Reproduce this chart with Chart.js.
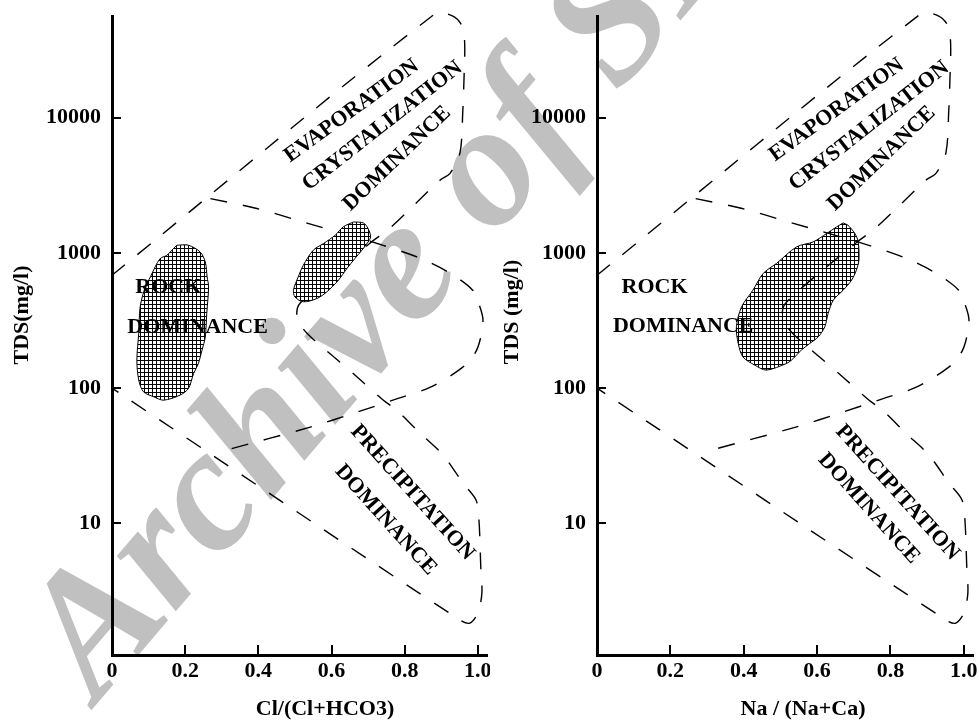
<!DOCTYPE html>
<html>
<head>
<meta charset="utf-8">
<title>Gibbs diagrams</title>
<script src="https://cdn.jsdelivr.net/npm/chart.js@4.4.1/dist/chart.umd.min.js"></script>
<style>
  html, body { margin: 0; padding: 0; background: #fff; overflow: hidden; }
  #page { position: relative; width: 979px; height: 725px; overflow: hidden; }
  .panel { position: absolute; top: 0; }
  #wm {
    position: absolute; left: 98px; top: 556px;
    font: italic bold 176px "Liberation Serif", "Times New Roman", serif;
    line-height: 176px; color: #c0c0c0; white-space: nowrap;
    transform-origin: 0 148px; transform: rotate(-49.5deg);
  }
</style>
</head>
<body>
<div id="page">
  <div id="wm">Archive of SID</div>
  <div class="panel" style="left:0"><canvas id="chartCl" width="490" height="725"></canvas></div>
  <div class="panel" style="left:490px"><canvas id="chartNa" width="489" height="725"></canvas></div>
</div>
<script>
/**************************************
 * DATOS
 **************************************/

// ejes
const tdsTicks = [10, 100, 1000, 10000];
const tdsTickLabels = ["10", "100", "1000", "10000"];
const ratioTicks = [0, 0.2, 0.4, 0.6, 0.8, 1.0];
const ratioTickLabels = ["0", "0.2", "0.4", "0.6", "0.8", "1.0"];

// limites de Gibbs (iguales en los dos paneles)
const outerRatio = [0, 0.883, 0.929, 0.956, 0.964, 0.962, 0.959, 0.951, 0.924, 0.896, 0.760, 0.705,
                    0.514, 0.506, 0.533, 0.610, 0.670, 0.741, 0.778, 0.842, 0.905, 0.959, 0.995,
                    1.003, 1.008, 1.011, 1.000, 0.978, 0.951, 0];
const outerTDS = [684, 58700, 56900, 48200, 35500, 18900, 11400, 5460, 3880, 3440, 1530, 1180,
                  425, 329, 255, 167, 121, 81.7, 68.9, 46.4, 32, 19.9, 14.9,
                  10.6, 4.76, 3.05, 2.17, 1.83, 1.93, 100];

const innerRatio = [0.269, 0.396, 0.533, 0.711, 0.834, 0.918, 0.986, 1.006, 1.014, 1.006, 0.992,
                    0.959, 0.872, 0.782, 0.670, 0.542, 0.318];
const innerTDS = [2520, 2130, 1660, 1206, 933, 724, 530, 397, 318, 227, 181,
                  143, 102, 84, 66.5, 51.5, 35.2];

// zonas de muestras - Cl/(Cl+HCO3)
const clRockRatio = [0.177, 0.209, 0.241, 0.255, 0.260, 0.264, 0.259, 0.255, 0.246, 0.236, 0.223,
                     0.209, 0.186, 0.141, 0.114, 0.086, 0.073, 0.068, 0.073, 0.077, 0.091, 0.105,
                     0.118, 0.132, 0.150, 0.168];
const clRockTDS = [1140, 1140, 1016, 857, 665, 561, 357, 239, 191, 152, 128,
                   99.5, 88.8, 81.5, 86.3, 94, 115, 161, 254, 399, 561, 665,
                   789, 910, 962, 1078];

const clEvapRatio = [0.660, 0.687, 0.700, 0.707, 0.700, 0.683, 0.664, 0.642, 0.619, 0.587, 0.560,
                     0.523, 0.500, 0.496, 0.509, 0.523, 0.550, 0.578, 0.610, 0.632];
const clEvapTDS = [1694, 1667, 1515, 1313, 1205, 1047, 909, 767, 629, 515, 460,
                   435, 473, 530, 665, 811, 1047, 1173, 1352, 1557];

// zona de muestras - Na/(Na+Ca)
const naRatio = [0.671, 0.684, 0.703, 0.712, 0.714, 0.707, 0.694, 0.671, 0.644, 0.630, 0.621,
                 0.603, 0.580, 0.557, 0.530, 0.516, 0.462, 0.430, 0.398, 0.385, 0.380, 0.394,
                 0.425, 0.453, 0.489, 0.544, 0.589, 0.626, 0.653];
const naTDS = [1667, 1603, 1391, 1205, 883, 745, 629, 530, 447, 356, 284,
               239, 214, 191, 161, 152, 136, 148, 170, 214, 284, 399,
               530, 705, 835, 1108, 1205, 1391, 1557];

/**************************************
 * ESTILOS Y TEXTOS
 **************************************/

const serif = '"Liberation Serif", "Times New Roman", serif';

const clLabels = [
    { text: "EVAPORATION", x: 0.655, y: 11200, rot: -36 },
    { text: "CRYSTALIZATION", x: 0.739, y: 8670, rot: -38 },
    { text: "DOMINANCE", x: 0.779, y: 4990, rot: -44 },
    { text: "ROCK", x: 0.154, y: 553, rot: 0 },
    { text: "DOMINANCE", x: 0.234, y: 280, rot: 0 },
    { text: "PRECIPITATION", x: 0.821, y: 16.9, rot: 48 },
    { text: "DOMINANCE", x: 0.748, y: 10.6, rot: 48 }
];

const naLabels = [
    { text: "EVAPORATION", x: 0.653, y: 11400, rot: -36 },
    { text: "CRYSTALIZATION", x: 0.742, y: 8670, rot: -38 },
    { text: "DOMINANCE", x: 0.776, y: 4990, rot: -44 },
    { text: "ROCK", x: 0.157, y: 553, rot: 0 },
    { text: "DOMINANCE", x: 0.235, y: 285, rot: 0 },
    { text: "PRECIPITATION", x: 0.819, y: 16.9, rot: 48 },
    { text: "DOMINANCE", x: 0.741, y: 12.9, rot: 48 }
];

function puntos(xs, ys, cerrar) {
    const p = xs.map((x, i) => ({ x: x, y: ys[i] }));
    if (cerrar) p.push({ x: xs[0], y: ys[0] });
    return p;
}

// trama cuadriculada de las zonas
function trama(ctx) {
    const c = document.createElement("canvas");
    c.width = 4; c.height = 4;
    const g = c.getContext("2d");
    g.fillStyle = "#fff"; g.fillRect(0, 0, 4, 4);
    g.fillStyle = "#000"; g.fillRect(0, 0, 4, 1); g.fillRect(0, 0, 1, 4);
    return ctx.createPattern(c, "repeat");
}

function linea(data, order) {
    return {
        data: data, showLine: true, pointRadius: 0, borderColor: "#000",
        borderWidth: 1.4, borderDash: [17, 16], tension: 0.3, fill: false,
        clip: false, order: order
    };
}

function zona(data, pattern, order) {
    return {
        data: data, showLine: true, pointRadius: 0, borderColor: "#000",
        borderWidth: 1, backgroundColor: pattern, fill: "shape", tension: 0.3,
        clip: false, order: order
    };
}

// marcas de eje, textos de zonas y titulos
const decorPlugin = {
    id: "decor",
    afterDatasetsDraw(chart, args, opts) {
        const { ctx, chartArea } = chart;
        const sx = chart.scales.x, sy = chart.scales.y;
        ctx.save();
        ctx.strokeStyle = "#000";
        ctx.lineWidth = 2;
        tdsTicks.forEach(v => {
            const py = Math.round(sy.getPixelForValue(v));
            ctx.beginPath(); ctx.moveTo(chartArea.left, py); ctx.lineTo(chartArea.left + 9, py); ctx.stroke();
        });
        ratioTicks.forEach(v => {
            const px = Math.round(sx.getPixelForValue(v));
            ctx.beginPath(); ctx.moveTo(px, chartArea.bottom); ctx.lineTo(px, chartArea.bottom - 10); ctx.stroke();
        });

        ctx.fillStyle = "#000";
        ctx.font = "bold 22px " + serif;
        ctx.textAlign = "center";
        ctx.textBaseline = "middle";
        opts.labels.forEach(l => {
            ctx.save();
            ctx.translate(sx.getPixelForValue(l.x), sy.getPixelForValue(l.y));
            ctx.rotate(l.rot * Math.PI / 180);
            ctx.fillText(l.text, 0, 0);
            ctx.restore();
        });

        ctx.fillText(opts.xTitle, opts.xTitlePos[0], opts.xTitlePos[1]);
        ctx.save();
        ctx.translate(opts.yTitlePos[0], opts.yTitlePos[1]);
        ctx.rotate(-Math.PI / 2);
        ctx.fillText(opts.yTitle, 0, 0);
        ctx.restore();
        ctx.restore();
    }
};

function crearPanel(canvasId, cfg) {
    const canvas = document.getElementById(canvasId);
    const ctx = canvas.getContext("2d");
    const fontTicks = { family: serif, size: 22, weight: "bold" };

    return new Chart(canvas, {
        type: "scatter",
        data: { datasets: cfg.datasets(trama(ctx)) },
        options: {
            responsive: false,
            devicePixelRatio: 1,
            animation: false,
            events: [],
            layout: { padding: { top: 16, right: cfg.padRight, bottom: 0, left: 0 } },
            plugins: {
                legend: { display: false },
                tooltip: { enabled: false },
                decor: {
                    labels: cfg.labels,
                    xTitle: cfg.xTitle, xTitlePos: cfg.xTitlePos,
                    yTitle: cfg.yTitle, yTitlePos: cfg.yTitlePos
                }
            },
            scales: {
                x: {
                    type: "linear", min: 0, max: 1.025, bounds: "data",
                    grid: { display: false, drawTicks: false },
                    border: { display: true, width: 3, color: "#000" },
                    ticks: {
                        autoSkip: false, maxRotation: 0, padding: 3, color: "#000", font: fontTicks,
                        callback: (v, i) => ratioTickLabels[i]
                    },
                    afterBuildTicks: s => { s.ticks = ratioTicks.map(v => ({ value: v })); },
                    afterFit: s => { s.height = 70; s.paddingLeft = 0; s.paddingRight = 0; }
                },
                y: {
                    type: "logarithmic", min: 1.063, max: 56500, bounds: "data",
                    grid: { display: false, drawTicks: false },
                    border: { display: true, width: 3, color: "#000" },
                    ticks: {
                        autoSkip: false, padding: 11, color: "#000", font: fontTicks,
                        callback: (v, i) => tdsTickLabels[i]
                    },
                    afterBuildTicks: s => { s.ticks = tdsTicks.map(v => ({ value: v })); },
                    afterFit: s => { s.width = cfg.yWidth; s.paddingTop = 0; s.paddingBottom = 0; }
                }
            }
        },
        plugins: [decorPlugin]
    });
}

/**************************************
 * PANELES
 **************************************/

// izquierda: las zonas tapan las lineas
crearPanel("chartCl", {
    yWidth: 112, padRight: 3,
    labels: clLabels,
    xTitle: "Cl/(Cl+HCO3)", xTitlePos: [325, 709],
    yTitle: "TDS(mg/l)", yTitlePos: [22, 315],
    datasets: pat => [
        zona(puntos(clRockRatio, clRockTDS, true), pat, 1),
        zona(puntos(clEvapRatio, clEvapTDS, true), pat, 2),
        linea(puntos(outerRatio, outerTDS), 3),
        linea(puntos(innerRatio, innerTDS), 4)
    ]
});

// derecha: las lineas pasan por encima de la zona
crearPanel("chartNa", {
    yWidth: 107, padRight: 6,
    labels: naLabels,
    xTitle: "Na / (Na+Ca)", xTitlePos: [313, 709],
    yTitle: "TDS (mg/l)", yTitlePos: [22, 312],
    datasets: pat => [
        linea(puntos(outerRatio, outerTDS), 1),
        linea(puntos(innerRatio, innerTDS), 2),
        zona(puntos(naRatio, naTDS, true), pat, 3)
    ]
});
</script>
</body>
</html>
